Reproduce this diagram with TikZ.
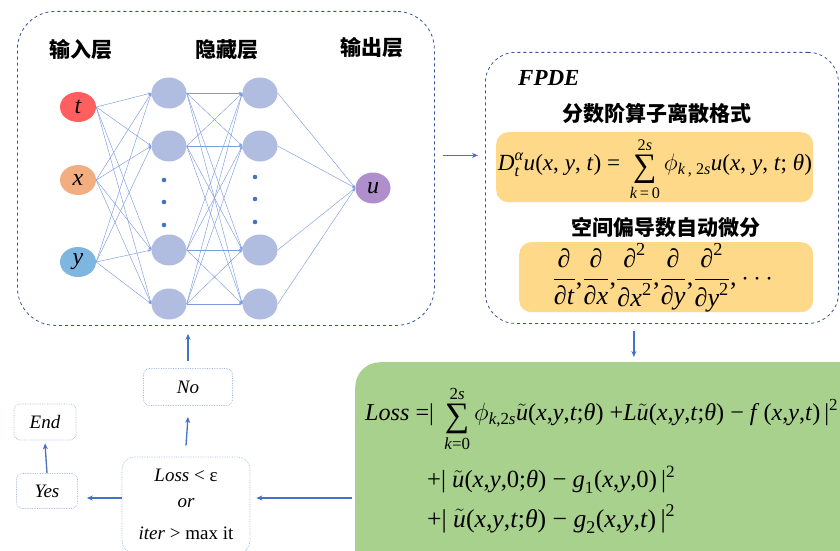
\documentclass[tikz,border=0pt]{standalone}
\usepackage{amsmath}
\usepackage{graphicx}
\usepackage{fontspec}
\setmainfont{Liberation Serif}
\newfontfamily\cjk{Noto Sans CJK SC}
\usetikzlibrary{arrows.meta,calc,shapes.geometric}
\definecolor{netblue}{HTML}{2F5597}
\definecolor{arrblue}{HTML}{4472C4}
\definecolor{edgeblue}{HTML}{7D9BE0}
\definecolor{hidfill}{HTML}{B0BCE0}
\definecolor{tfill}{HTML}{FF5F5F}
\definecolor{xfill}{HTML}{F2AE80}
\definecolor{yfill}{HTML}{7DB6E0}
\definecolor{ufill}{HTML}{AF8ECC}
\definecolor{yellowbox}{HTML}{FFD98A}
\definecolor{greenbox}{HTML}{A9D18E}
\definecolor{dotgray}{HTML}{9EB4DC}
\newcommand\T[1]{\text{\normalfont #1}}
\newcommand\I[1]{\text{\normalfont\itshape #1}}
\newcommand\Sig{\T{\raisebox{-6pt}{\fontsize{34}{34}\selectfont ∑}}}
\tikzset{
  neuron/.style={ellipse, minimum width=35pt, minimum height=31pt, inner sep=0pt, fill=hidfill},
  innode/.style={ellipse, minimum width=36pt, minimum height=30pt, inner sep=0pt, font=\fontsize{24}{24}\selectfont\itshape},
  edge/.style={draw=edgeblue, line width=0.45pt, -{Stealth[length=3.5pt,width=2.5pt]}},
  arr/.style={draw=arrblue, line width=1.3pt, -{Stealth[length=6pt,width=5pt]}},
  bigbox/.style={draw=netblue, dashed, line width=0.8pt, rounded corners=38pt, inner sep=0pt},
  smallbox/.style={draw=dotgray, densely dotted, line width=0.7pt, rounded corners=6pt, inner sep=0pt, font=\fontsize{19}{22}\selectfont\itshape},
  head/.style={font=\fontsize{21}{22}\selectfont\cjk\bfseries},
  ybox/.style={fill=yellowbox, rounded corners=12pt, inner sep=0pt},
  eqn/.style={font=\fontsize{24}{28}\selectfont, inner sep=0pt}
}
\begin{document}
\begin{tikzpicture}[x=1pt,y=-1pt]
\useasboundingbox (0,0) rectangle (840,551);
% network box
\node[bigbox, minimum width=417pt, minimum height=314pt, anchor=north west] (netbox) at (17,11) {};
\node[head] (h1) at (81,50) {输入层};
\node[head] (h2) at (227,50) {隐藏层};
\node[head] (h3) at (372,48) {输出层};
% input nodes
\node[innode, fill=tfill] (it) at (78,107) {t};
\node[innode, fill=xfill] (ix) at (78,180) {x};
\node[innode, fill=yfill] (iy) at (78,262) {y};
% hidden layers
\foreach \n/\yy in {1/93,2/146,3/250,4/304}{
  \node[neuron] (ha\n) at (169,\yy) {};
  \node[neuron] (hb\n) at (260,\yy) {};
}
\node[innode, fill=ufill, minimum width=35pt, minimum height=31pt] (ou) at (373,188) {u};
% dots
\foreach \yy in {180,202,225} \fill[arrblue] (164,\yy) circle (2.3pt);
\foreach \yy in {177,199,222} \fill[arrblue] (255,\yy) circle (2.3pt);
% edges
\foreach \i in {it,ix,iy}{\foreach \j in {1,...,4}{\draw[edge] (\i.east) -- (ha\j.west);}}
\foreach \i in {1,...,4}{\foreach \j in {1,...,4}{\draw[edge] (ha\i.east) -- (hb\j.west);}}
\foreach \i in {1,...,4}{\draw[edge] (hb\i.east) -- (ou.west);}
% FPDE box
\node[bigbox, minimum width=353pt, minimum height=271pt, anchor=north west, rounded corners=30pt] (fpde) at (485,52) {};
\node[anchor=west, inner sep=0pt, font=\fontsize{23}{24}\selectfont\bfseries\itshape] (fpdet) at (518,78) {FPDE};
\node[head] (s1) at (657,113) {分数阶算子离散格式};
\node[ybox, minimum width=317pt, minimum height=70pt, anchor=north west] (yb1) at (496,132) {};
\node[eqn] (eq1) at (655,169) {\resizebox{314pt}{!}{$\displaystyle \I{D}_{\I{t}}^{\I{α}}\T{\textit{u}(\textit{x}, \textit{y}, \textit{t}) = }\mathop{\Sig}\limits_{\T{\textit{k}\,=\,0}}^{\T{2\textit{s}}}\phi_{\T{\textit{k}\,, 2\textit{s}}}\T{\textit{u}(\textit{x}, \textit{y}, \textit{t}; \textit{θ})}$}};
\node[head] (s2) at (666,227) {空间偏导数自动微分};
\node[ybox, minimum width=294pt, minimum height=70pt, anchor=north west] (yb2) at (519,242) {};
\node[eqn] (eq2) at (665,278) {\resizebox{225pt}{!}{$\displaystyle \frac{\T{∂}}{\T{∂\textit{t}}}\T{,}\frac{\T{∂}}{\T{∂\textit{x}}}\T{,}\frac{\T{∂}^{\T{2}}}{\T{∂\textit{x}}^{\T{2}}}\T{,}\frac{\T{∂}}{\T{∂\textit{y}}}\T{,}\frac{\T{∂}^{\T{2}}}{\T{∂\textit{y}}^{\T{2}}}\T{,}\cdots$}};
% loss box
\node[fill=greenbox, rounded corners=25pt, minimum width=520pt, minimum height=220pt, anchor=north west, inner sep=0pt] (lossbox) at (355,362) {};
\node[eqn, anchor=west] (l1) at (365,419) {\resizebox{473pt}{!}{$\displaystyle \T{\textit{Loss} =| }\mathop{\Sig}\limits_{\T{\textit{k}=0}}^{\T{2\textit{s}}}\phi_{\T{\textit{k},2\textit{s}}}\tilde{\I{u}}\T{(\textit{x},\textit{y},\textit{t};\textit{θ}) +\textit{L}}\tilde{\I{u}}\T{(\textit{x},\textit{y},\textit{t};\textit{θ}) − \textit{f}\,(\textit{x},\textit{y},\textit{t})\,|}^{\T{2}}$}};
\node[eqn, anchor=west] (l2) at (427,480) {\resizebox{248pt}{!}{$\T{+| }\tilde{\I{u}}\T{(\textit{x},\textit{y},0;\textit{θ}) − \textit{g}}_{\T{1}}\T{(\textit{x},\textit{y},0)\,|}^{\T{2}}$}};
\node[eqn, anchor=west] (l3) at (427,519) {\resizebox{248pt}{!}{$\T{+| }\tilde{\I{u}}\T{(\textit{x},\textit{y},\textit{t};\textit{θ}) − \textit{g}}_{\T{2}}\T{(\textit{x},\textit{y},\textit{t})\,|}^{\T{2}}$}};
% decision etc
\node[smallbox, rounded corners=12pt, minimum width=128pt, minimum height=96pt] (dec) at (186,505) {};
\node[font=\fontsize{19}{22}\selectfont, inner sep=0pt] (d1) at (186,475) {\textit{Loss} < ε};
\node[font=\fontsize{19}{22}\selectfont\itshape, inner sep=0pt] (d2) at (186,503) {or};
\node[font=\fontsize{19}{22}\selectfont, inner sep=0pt] (d3) at (186,533) {\textit{iter} > max it};
\node[smallbox, minimum width=89pt, minimum height=37pt] (no) at (188,387) {No};
\node[smallbox, minimum width=61pt, minimum height=35pt] (yes) at (47,491) {Yes};
\node[smallbox, minimum width=62pt, minimum height=36pt] (end) at (45,422) {End};
% arrows
\coordinate (c1) at ([xshift=8,yshift=13]netbox.east);
\draw[arr] (c1) -- ([xshift=-7]c1 -| fpde.west);
\coordinate (c2) at ([xshift=-28,yshift=-7]fpde.south);
\draw[arr] (c2) -- ([yshift=5]c2 |- lossbox.north);
\coordinate (c3) at ([yshift=7]dec.east);
\draw[arr] ([xshift=-3]c3 -| lossbox.west) -- ([xshift=6]c3);
\coordinate (c4) at ([yshift=7]dec.west);
\draw[arr] (c4) -- ([xshift=9]c4 -| yes.east);
\draw[arr] (yes.north) -- ([yshift=-3]end.south);
\draw[arr] ([yshift=11]dec.north) -- ([yshift=-11]no.south);
\coordinate (c5) at ([yshift=7]no.north);
\draw[arr] (c5) -- ([yshift=-8]c5 |- netbox.south);
\end{tikzpicture}
\end{document}
